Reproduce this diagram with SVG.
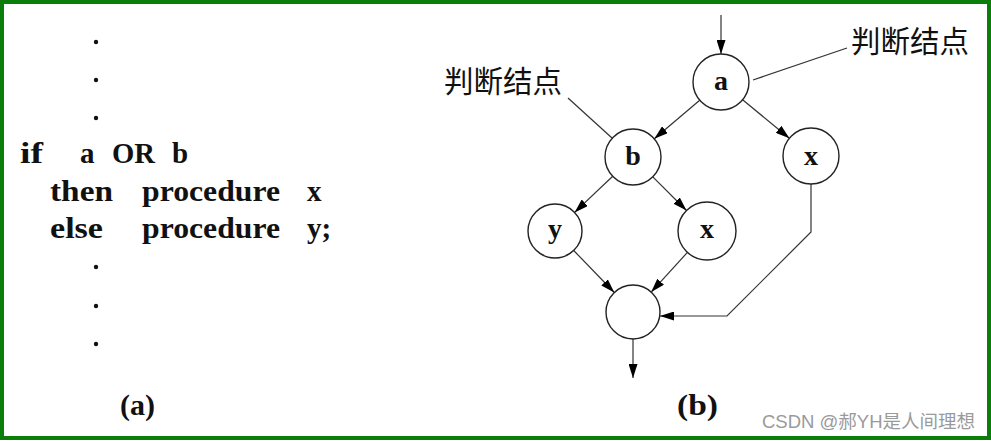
<svg xmlns="http://www.w3.org/2000/svg" width="991" height="441" viewBox="0 0 991 441">
<style>
.code{font-family:"Liberation Serif",serif;font-weight:bold;font-size:29px;fill:#111}
.cap{font-family:"Liberation Serif",serif;font-weight:bold;font-size:29px;fill:#111}
.lbl{font-family:"Liberation Serif",serif;font-weight:bold;font-size:28px;fill:#111;text-anchor:middle}
.cjk{font-family:"Noto Sans CJK SC","Noto Sans CJK JP",sans-serif;font-size:29.5px;fill:#111}
.node{fill:#fff;stroke:#222;stroke-width:1.4}
.edge{fill:none;stroke:#333;stroke-width:1.2}
.lead{fill:none;stroke:#333;stroke-width:1.2}
.dot{fill:#111}
.wm{font-family:"Liberation Sans","Noto Sans CJK SC",sans-serif;font-size:18.5px;fill:#9a9a9a}
</style>
<defs>
<marker id="arr" viewBox="0 0 14 9" refX="14" refY="4.5" markerWidth="14" markerHeight="9" markerUnits="userSpaceOnUse" orient="auto">
<path d="M0,0 L14,4.5 L0,9 Z" fill="#000"/>
</marker>
</defs>
<rect x="0" y="0" width="991" height="441" fill="#fff"/>
<rect x="2" y="2" width="987" height="436" fill="none" stroke="#0b7d0b" stroke-width="4"/>

<g id="code">
<circle class="dot" cx="96" cy="42" r="2.2"/>
<circle class="dot" cx="96" cy="80" r="2.2"/>
<circle class="dot" cx="96" cy="118" r="2.2"/>
<text class="code" x="20" y="163" textLength="23" lengthAdjust="spacingAndGlyphs">if</text>
<text class="code" x="80" y="163">a</text>
<text class="code" x="112" y="163" textLength="43" lengthAdjust="spacingAndGlyphs">OR</text>
<text class="code" x="172" y="163">b</text>
<text class="code" x="50" y="201" textLength="63" lengthAdjust="spacingAndGlyphs">then</text>
<text class="code" x="142" y="201" textLength="138" lengthAdjust="spacingAndGlyphs">procedure</text>
<text class="code" x="307" y="201">x</text>
<text class="code" x="50" y="238" textLength="53" lengthAdjust="spacingAndGlyphs">else</text>
<text class="code" x="142" y="238" textLength="138" lengthAdjust="spacingAndGlyphs">procedure</text>
<text class="code" x="307" y="238">y;</text>
<circle class="dot" cx="96" cy="267" r="2.2"/>
<circle class="dot" cx="96" cy="306" r="2.2"/>
<circle class="dot" cx="96" cy="344" r="2.2"/>
<text class="cap" x="120" y="415" textLength="35" lengthAdjust="spacingAndGlyphs">(a)</text>
</g>

<g id="connectors">
<line class="edge" x1="721" y1="15" x2="721" y2="54" marker-end="url(#arr)"/>
<line class="edge" x1="699.7" y1="100.2" x2="654.3" y2="138.8" marker-end="url(#arr)"/>
<line class="edge" x1="742.6" y1="99.8" x2="789.4" y2="138.2" marker-end="url(#arr)"/>
<line class="edge" x1="612.7" y1="176.3" x2="574.6" y2="212.4" marker-end="url(#arr)"/>
<line class="edge" x1="652.8" y1="176.8" x2="686.5" y2="210.5" marker-end="url(#arr)"/>
<line class="edge" x1="573.7" y1="250.5" x2="614.3" y2="292.5" marker-end="url(#arr)"/>
<line class="edge" x1="687.4" y1="252.4" x2="651.2" y2="292.1" marker-end="url(#arr)"/>
<polyline class="edge" points="811,184 811,232 727,316 660,316" marker-end="url(#arr)"/>
<line class="edge" x1="633" y1="339" x2="633" y2="378" marker-end="url(#arr)"/>
<line class="lead" x1="753" y1="80" x2="847" y2="48"/>
<line class="lead" x1="568" y1="98" x2="612" y2="138"/>
</g>

<g id="node-a">
<circle class="node" cx="721" cy="82" r="28"/>
<text class="lbl" x="721" y="90">a</text>
</g>
<g id="node-b">
<circle class="node" cx="633" cy="157" r="28"/>
<text class="lbl" x="633" y="165">b</text>
</g>
<g id="node-x1">
<circle class="node" cx="811" cy="156" r="28"/>
<text class="lbl" x="811" y="165">x</text>
</g>
<g id="node-y">
<circle class="node" cx="555" cy="231" r="27"/>
<text class="lbl" x="555" y="238">y</text>
</g>
<g id="node-x2">
<circle class="node" cx="707" cy="231" r="29"/>
<text class="lbl" x="707" y="238">x</text>
</g>
<g id="node-end">
<circle class="node" cx="633" cy="312" r="27"/>
</g>

<g id="label-left">
<text class="cjk" x="444" y="92">判断结点</text>
</g>
<g id="label-right">
<text class="cjk" x="851" y="52">判断结点</text>
</g>

<text class="cap" x="677" y="415" textLength="41" lengthAdjust="spacingAndGlyphs">(b)</text>
<text class="wm" x="762" y="428">CSDN @郝YH是人间理想</text>
</svg>
